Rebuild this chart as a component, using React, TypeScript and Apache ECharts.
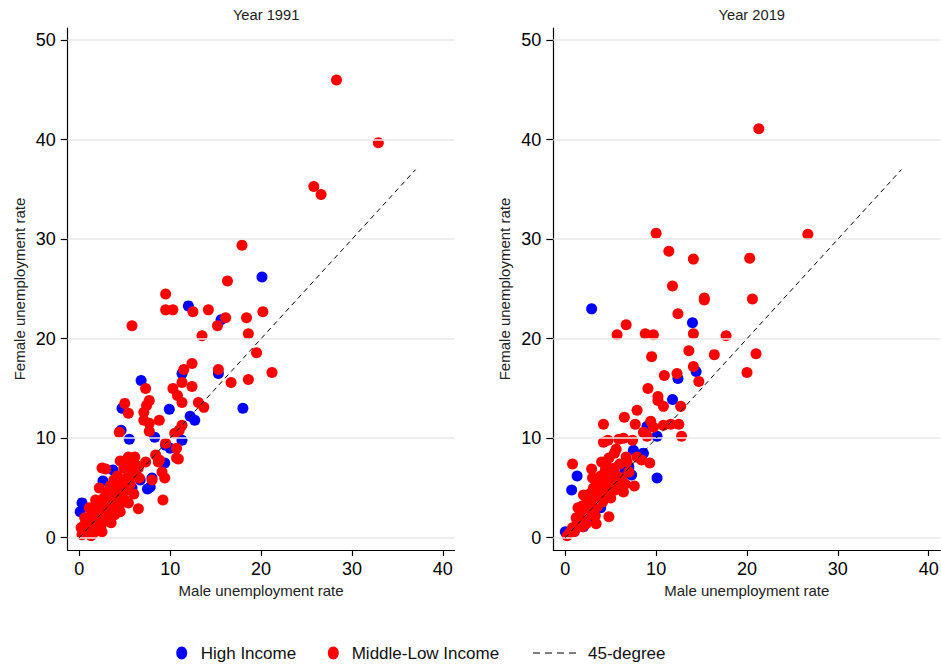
import React, { useEffect, useRef } from "react";
import * as echarts from "echarts";

const FONT = "'Liberation Sans', Arial, Helvetica, sans-serif";

const panelTitles = ["Year 1991", "Year 2019"];
const xTicks = [0, 10, 20, 30, 40];
const yTicks = [0, 10, 20, 30, 40, 50];
const diagonal = [[0, 0], [37, 37]];

// Year 1991
const high1991: number[][] = [
  [20.1, 26.2], [12.0, 23.3], [15.6, 21.9], [11.3, 16.5], [15.3, 16.5], [6.8, 15.8],
  [4.7, 13.0], [18.0, 13.0], [9.9, 12.9], [12.2, 12.2], [12.7, 11.8], [4.6, 10.8],
  [5.5, 9.9], [8.3, 10.1], [9.5, 9.3], [10.0, 9.0], [11.3, 9.8], [9.4, 7.5],
  [3.7, 6.8], [5.9, 6.8], [2.6, 5.7], [7.8, 5.1], [7.5, 4.9], [5.8, 5.0],
  [0.3, 3.5], [0.1, 2.6], [8.0, 6.0], [6.7, 5.8], [1.5, 2.0], [2.0, 1.0],
  [3.0, 2.5], [4.0, 3.5], [1.0, 0.8], [2.5, 3.0], [3.5, 4.5],
];
const mid1991: number[][] = [
  [28.3, 46.0], [32.9, 39.7], [25.8, 35.3], [26.6, 34.5], [17.9, 29.4], [16.3, 25.8],
  [9.5, 24.5], [9.5, 22.9], [10.3, 22.9], [12.5, 22.7], [14.2, 22.9], [16.1, 22.1],
  [15.2, 21.3], [5.8, 21.3], [18.4, 22.1], [20.2, 22.7], [18.6, 20.5], [13.5, 20.3],
  [19.5, 18.6], [21.2, 16.6], [12.4, 17.5], [11.5, 16.9], [15.3, 16.9], [18.6, 15.9],
  [16.7, 15.6], [11.3, 15.6], [7.3, 15.0], [12.4, 15.2], [10.3, 15.0], [10.8, 14.3],
  [11.3, 13.6], [7.7, 13.8], [7.4, 13.3], [5.0, 13.5], [5.4, 12.5], [13.1, 13.6],
  [13.7, 13.1], [7.1, 12.6], [7.1, 11.8], [7.7, 11.5], [8.8, 11.8], [11.3, 11.3],
  [11.0, 10.8], [7.7, 10.7], [4.4, 10.6], [10.5, 10.5], [10.7, 9.0], [10.9, 7.9],
  [9.5, 9.5], [8.4, 8.3], [8.8, 7.8], [9.4, 6.0], [9.2, 3.8], [6.1, 8.1],
  [5.4, 8.1], [4.5, 7.7], [7.3, 7.6], [6.5, 7.0], [5.9, 6.8], [2.5, 7.0],
  [8.0, 5.8], [6.6, 6.0], [5.4, 3.5], [6.5, 2.9], [10.7, 8.0], [8.7, 7.6],
  [9.1, 6.6], [4.5, 2.6], [3.7, 2.3],
  [0.3, 0.3], [0.5, 1.2], [0.8, 0.5], [1.0, 1.8], [1.2, 0.9], [1.4, 2.4],
  [1.5, 0.4], [1.7, 1.5], [1.9, 2.9], [2.0, 0.8], [2.1, 2.0], [2.3, 3.3],
  [2.4, 1.2], [2.6, 2.6], [2.7, 4.0], [2.8, 1.7], [3.0, 3.0], [3.1, 4.6],
  [3.2, 2.1], [3.3, 3.6], [3.4, 5.2], [3.5, 1.5], [3.6, 4.2], [3.7, 3.0],
  [3.8, 5.8], [3.9, 2.3], [4.0, 4.8], [4.1, 3.8], [4.2, 6.2], [4.3, 5.2],
  [4.4, 3.2], [4.6, 4.4], [4.8, 5.6], [4.9, 7.0], [5.0, 3.8], [5.2, 6.0],
  [5.3, 4.8], [5.5, 7.2], [5.6, 5.4], [5.8, 6.3], [6.0, 4.4], [6.2, 7.3],
  [0.6, 2.0], [1.1, 3.0], [1.8, 3.8], [2.2, 5.0], [2.9, 6.9], [0.2, 1.0],
  [1.3, 0.2], [2.5, 0.6], [1.6, 1.0], [0.9, 1.3],
];

// Year 2019
const high2019: number[][] = [
  [2.9, 23.0], [14.0, 21.6], [14.4, 16.7], [12.4, 16.0], [11.8, 13.9], [9.0, 11.2],
  [10.1, 10.2], [7.5, 8.8], [8.6, 8.5], [1.3, 6.2], [0.7, 4.8], [10.1, 6.0],
  [0.0, 0.6], [7.0, 7.1], [7.3, 6.3], [6.1, 5.1], [3.9, 3.0], [2.0, 1.1],
  [4.5, 4.0], [5.5, 5.5], [3.0, 2.0], [6.5, 6.5], [1.5, 1.5], [5.0, 6.0],
];
const mid2019: number[][] = [
  [21.3, 41.1], [10.0, 30.6], [26.7, 30.5], [11.4, 28.8], [14.1, 28.0], [20.3, 28.1],
  [11.8, 25.3], [15.3, 24.1], [15.3, 23.9], [20.6, 24.0], [12.4, 22.5], [6.7, 21.4],
  [5.7, 20.4], [8.8, 20.5], [9.7, 20.4], [14.1, 20.5], [17.7, 20.3], [13.6, 18.8],
  [9.5, 18.2], [16.4, 18.4], [21.0, 18.5], [14.1, 17.2], [20.0, 16.6], [10.9, 16.3],
  [12.3, 16.5], [14.7, 15.7], [9.1, 15.0], [10.2, 14.2], [10.2, 13.8], [10.8, 13.2],
  [12.7, 13.2], [7.9, 12.8], [4.2, 11.4], [6.5, 12.1], [7.7, 11.4], [9.4, 11.7],
  [9.7, 11.1], [10.8, 11.3], [11.6, 11.4], [12.5, 11.4], [12.8, 10.2], [8.6, 10.6],
  [9.0, 10.2], [4.2, 9.6], [4.7, 9.8], [5.9, 9.9], [6.4, 10.0], [7.4, 9.8],
  [5.4, 8.5], [6.7, 8.1], [7.9, 8.1], [8.4, 7.8], [9.3, 7.5], [0.8, 7.4],
  [2.9, 6.9], [4.6, 7.1], [7.6, 5.2], [3.4, 1.4], [4.8, 2.1], [1.9, 1.1],
  [1.3, 1.6],
  [0.2, 0.2], [0.5, 0.5], [0.8, 1.0], [1.0, 0.6], [1.2, 2.0], [1.5, 1.2],
  [1.7, 2.6], [1.9, 3.2], [2.0, 1.8], [2.2, 2.8], [2.4, 3.8], [2.5, 2.2],
  [2.7, 3.4], [2.8, 4.5], [3.0, 2.8], [3.1, 5.0], [3.2, 3.9], [3.4, 4.6],
  [3.5, 3.1], [3.6, 5.6], [3.8, 4.1], [3.9, 6.2], [4.0, 5.0], [4.1, 3.6],
  [4.3, 5.8], [4.4, 6.8], [4.5, 4.4], [4.7, 5.4], [4.9, 6.4], [5.0, 4.0],
  [5.2, 5.8], [5.4, 7.0], [5.5, 4.8], [5.7, 6.2], [5.9, 5.2], [6.0, 7.4],
  [6.2, 6.0], [6.4, 4.6], [6.6, 5.4], [6.8, 7.6], [7.0, 6.6], [2.3, 1.4],
  [3.3, 2.2], [1.4, 3.0], [2.0, 4.3], [3.0, 6.0], [4.8, 8.0], [5.6, 8.9],
  [4.0, 7.6],
];

const panels = [
  { high: high1991, mid: mid1991 },
  { high: high2019, mid: mid2019 },
];

const grids = [
  { left: 67.7, top: 28, width: 386.8, height: 522 },
  { left: 553.3, top: 28, width: 387, height: 522 },
];
const xRanges = [[-1.276, 41.28], [-1.32, 41.28]];
const yRange = [-1.236, 51.23];

export default function App() {
  const ref = useRef<HTMLDivElement>(null);
  useEffect(() => {
    if (!ref.current) return;
    const chart = echarts.init(ref.current, undefined, { renderer: "svg" });

    const xAxis = grids.map((_, i) => ({
      type: "value",
      gridIndex: i,
      min: xRanges[i][0],
      max: xRanges[i][1],
      name: "Male unemployment rate",
      nameLocation: "middle",
      nameGap: 28,
      nameTextStyle: { fontFamily: FONT, fontSize: 15, color: "#222" },
      axisLine: { show: true, onZero: false, lineStyle: { color: "#000", width: 1.2 } },
      axisTick: { show: true, customValues: xTicks, length: 6, lineStyle: { color: "#000", width: 1.2 } },
      axisLabel: { customValues: xTicks, fontFamily: FONT, fontSize: 18, color: "#000", margin: 10 },
      splitLine: { show: false },
    }));
    const yAxis = grids.map((_, i) => ({
      type: "value",
      gridIndex: i,
      min: yRange[0],
      max: yRange[1],
      name: "Female unemployment rate",
      nameLocation: "middle",
      nameGap: 41,
      nameTextStyle: { fontFamily: FONT, fontSize: 15, color: "#222" },
      axisLine: { show: true, onZero: false, lineStyle: { color: "#000", width: 1.2 } },
      axisTick: { show: true, customValues: yTicks, length: 7, lineStyle: { color: "#000", width: 1.2 } },
      axisLabel: { customValues: yTicks, fontFamily: FONT, fontSize: 18, color: "#000", margin: 12 },
      splitLine: { show: false },
    }));

    const series: any[] = [];
    panels.forEach((p, i) => {
      series.push({
        type: "scatter",
        xAxisIndex: i,
        yAxisIndex: i,
        data: [],
        z: 1,
        silent: true,
        markLine: {
          silent: true,
          symbol: ["none", "none"],
          label: { show: false },
          lineStyle: { color: "#e8e8e8", width: 1.5, type: "solid" },
          data: yTicks.map((v) => ({ yAxis: v })),
        },
      });
      series.push({
        name: "High Income",
        type: "scatter",
        xAxisIndex: i,
        yAxisIndex: i,
        data: p.high,
        symbol: "circle",
        symbolSize: 11,
        itemStyle: { color: "#0000ff", opacity: 1 },
        z: 2,
      });
      series.push({
        name: "Middle-Low Income",
        type: "scatter",
        xAxisIndex: i,
        yAxisIndex: i,
        data: p.mid,
        symbol: "circle",
        symbolSize: 11,
        itemStyle: { color: "#ff0000", opacity: 1 },
        z: 3,
      });
      series.push({
        name: "45-degree",
        type: "line",
        xAxisIndex: i,
        yAxisIndex: i,
        data: diagonal,
        symbol: "none",
        lineStyle: { color: "#000", width: 1, type: [5, 4] },
        z: 5,
      });
    });

    const legendY = 653;
    chart.setOption({
      animation: false,
      backgroundColor: "#fff",
      title: panelTitles.map((t, i) => ({
        text: t,
        left: grids[i].left + grids[i].width / 2,
        top: 2,
        textAlign: "center",
        textStyle: { fontFamily: FONT, fontSize: 14.7, fontWeight: "normal", color: "#222" },
      })),
      grid: grids.map((g) => ({ ...g, containLabel: false, outerBoundsMode: "none" })),
      xAxis,
      yAxis,
      series,
      graphic: [
        { type: "ellipse", shape: { cx: 181.7, cy: legendY, rx: 5.5, ry: 6.5 }, style: { fill: "#0000ff" } },
        { type: "text", x: 200.7, y: legendY, style: { text: "High Income", fontFamily: FONT, fontSize: 17, fill: "#111", verticalAlign: "middle" } },
        { type: "ellipse", shape: { cx: 333.3, cy: legendY, rx: 5.5, ry: 6.5 }, style: { fill: "#ff0000" } },
        { type: "text", x: 351.7, y: legendY, style: { text: "Middle-Low Income", fontFamily: FONT, fontSize: 17, fill: "#111", verticalAlign: "middle" } },
        { type: "line", shape: { x1: 533, y1: legendY, x2: 577, y2: legendY }, style: { stroke: "#000", lineWidth: 1.2, lineDash: [7, 5] } },
        { type: "text", x: 588, y: legendY, style: { text: "45-degree", fontFamily: FONT, fontSize: 17, fill: "#111", verticalAlign: "middle" } },
      ],
    });
    return () => chart.dispose();
  }, []);
  return <div ref={ref} style={{ position: "fixed", left: 0, top: 0, width: 941, height: 668 }} />;
}
